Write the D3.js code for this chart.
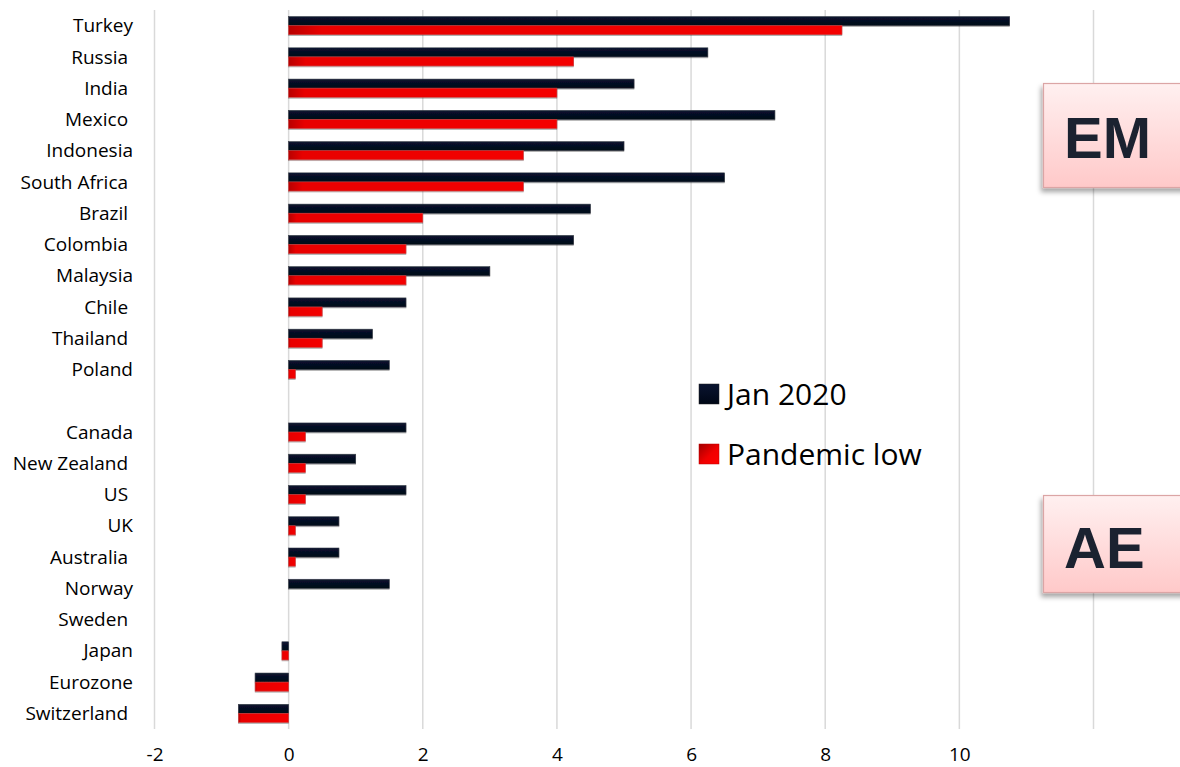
<!DOCTYPE html>
<html>
<head>
<meta charset="utf-8">
<script src="https://cdn.jsdelivr.net/npm/d3@7"></script>
<style>
  html, body { margin: 0; padding: 0; background: #ffffff; }
  svg { display: block; }
  text { font-family: "Open Sans", Lato, sans-serif; }
</style>
</head>
<body>
<svg id="chart" width="1180" height="767"></svg>
<script>
// Policy rates, % — an empty category separates EM from AE
const categories = ["Turkey", "Russia ", "India ", "Mexico ", "Indonesia", "South Africa ", "Brazil ",
  "Colombia ", "Malaysia", "Chile ", "Thailand ", "Poland", "",
  "Canada", "New Zealand ", "US ", "UK", "Australia ", "Norway", "Sweden ", "Japan", "Eurozone", "Switzerland "];
const jan2020 = [10.75, 6.25, 5.15, 7.25, 5.0, 6.5, 4.5, 4.25, 3.0, 1.75, 1.25, 1.5, null,
  1.75, 1.0, 1.75, 0.75, 0.75, 1.5, 0, -0.1, -0.5, -0.75];
const pandemicLow = [8.25, 4.25, 4.0, 4.0, 3.5, 3.5, 2.0, 1.75, 1.75, 0.5, 0.5, 0.1, null,
  0.25, 0.25, 0.25, 0.1, 0.1, 0, 0, -0.1, -0.5, -0.75];
const seriesNames = ["Jan 2020", "Pandemic low"];
const gridValues = [-2, 0, 2, 4, 6, 8, 10, 12];
const tickLabels = [-2, 0, 2, 4, 6, 8, 10];
const groupLabels = ["EM", "AE"];

const svg = d3.select("#chart");
const defs = svg.append("defs");

// gradients for the bar fills
const gDark = defs.append("linearGradient").attr("id", "gDark").attr("x1", 0).attr("y1", 0).attr("x2", 0).attr("y2", 1);
gDark.append("stop").attr("offset", "0%").attr("stop-color", "#0a1430");
gDark.append("stop").attr("offset", "100%").attr("stop-color", "#000716");
const gRed = defs.append("linearGradient").attr("id", "gRed").attr("x1", 0).attr("y1", 0).attr("x2", 1).attr("y2", 0);
gRed.append("stop").attr("offset", "0%").attr("stop-color", "#b80000");
gRed.append("stop").attr("offset", "6%").attr("stop-color", "#e80000");
gRed.append("stop").attr("offset", "100%").attr("stop-color", "#f40000");
const gRedLeg = defs.append("linearGradient").attr("id", "gRedLeg").attr("x1", 0).attr("y1", 0).attr("x2", 1).attr("y2", 1);
gRedLeg.append("stop").attr("offset", "0%").attr("stop-color", "#a00000");
gRedLeg.append("stop").attr("offset", "55%").attr("stop-color", "#f00000");
gRedLeg.append("stop").attr("offset", "100%").attr("stop-color", "#ff0000");
const gBox = defs.append("linearGradient").attr("id", "gBox").attr("x1", 0).attr("y1", 0).attr("x2", 0).attr("y2", 1);
gBox.append("stop").attr("offset", "0%").attr("stop-color", "#fff0f0");
gBox.append("stop").attr("offset", "100%").attr("stop-color", "#ffc9c9");

const shadow = defs.append("filter").attr("id", "boxShadow").attr("x", "-10%").attr("y", "-10%").attr("width", "130%").attr("height", "130%");
shadow.append("feDropShadow").attr("dx", -2).attr("dy", 4).attr("stdDeviation", 2.5)
  .attr("flood-color", "#000").attr("flood-opacity", 0.35);
const barShadow = defs.append("filter").attr("id", "barShadow").attr("x", "-5%").attr("y", "-20%").attr("width", "110%").attr("height", "160%");
barShadow.append("feDropShadow").attr("dx", 0).attr("dy", 1).attr("stdDeviation", 0.6)
  .attr("flood-color", "#000").attr("flood-opacity", 0.35);

const x = d3.scaleLinear().domain([-2, 12]).range([154.5, 1093.5]);
const y = d3.scaleBand().domain(d3.range(categories.length)).range([10, 729]).paddingInner(0.42).paddingOuter(0.21);
const sub = d3.scaleBand().domain([0, 1]).range([0, y.bandwidth()]);

// vertical gridlines
svg.append("g").selectAll("line").data(gridValues).join("line")
  .attr("x1", d => x(d)).attr("x2", d => x(d))
  .attr("y1", 10).attr("y2", 729)
  .attr("stroke", "#d9d9d9").attr("stroke-width", 1.5);

// bottom tick labels
const xAxis = d3.axisBottom(x).tickValues(tickLabels).tickFormat(d => String(d)).tickSize(0).tickPadding(0);
const ax = svg.append("g").attr("transform", "translate(0,747)").call(xAxis);
ax.select(".domain").remove();
ax.selectAll("text").attr("font-size", 19).attr("fill", "#000").attr("dy", "0.71em")
  .style("font-family", "'Open Sans', Lato, sans-serif");

// category labels
svg.append("g").selectAll("text").data(categories).join("text")
  .attr("x", 133).attr("y", (d, i) => y(i) + y.bandwidth() / 2)
  .attr("dy", "0.35em").attr("text-anchor", "end")
  .attr("xml:space", "preserve").style("white-space", "pre")
  .attr("font-size", 19).attr("fill", "#000")
  .text(d => d);

// bars
const series = [
  { values: jan2020, fill: "url(#gDark)", stroke: "#3a3f48" },
  { values: pandemicLow, fill: "url(#gRed)", stroke: "#c84040" }
];
series.forEach((s, k) => {
  svg.append("g").attr("filter", "url(#barShadow)").selectAll("rect")
    .data(s.values.map((v, i) => ({ v, i })).filter(d => d.v !== null && d.v !== 0))
    .join("rect")
    .attr("x", d => x(Math.min(0, d.v)))
    .attr("width", d => Math.abs(x(d.v) - x(0)))
    .attr("y", d => y(d.i) + sub(k))
    .attr("height", sub.bandwidth())
    .attr("fill", s.fill)
    .attr("stroke", s.stroke).attr("stroke-width", 0.6);
});

// legend
const legend = svg.append("g");
const legFills = ["url(#gDark)", "url(#gRedLeg)"];
const legY = [384, 444];
seriesNames.forEach((name, k) => {
  legend.append("rect").attr("x", 699).attr("y", legY[k]).attr("width", 20).attr("height", 20)
    .attr("fill", legFills[k]).attr("stroke", k === 0 ? "#222" : "#b00").attr("stroke-width", 0.5);
  legend.append("text").attr("x", 727).attr("y", legY[k] + 21)
    .attr("font-size", 30).attr("fill", "#000").text(name);
});

// group tags
const boxes = [{ y: 83, h: 104, base: 158 }, { y: 495, h: 97, base: 568 }];
groupLabels.forEach((lab, k) => {
  const b = boxes[k];
  svg.append("rect").attr("x", 1043.5).attr("y", b.y + 0.5).attr("width", 150).attr("height", b.h)
    .attr("fill", "url(#gBox)").attr("stroke", "#dba5a5").attr("stroke-width", 1.2)
    .attr("filter", "url(#boxShadow)");
  svg.append("text").attr("x", 1064).attr("y", b.base)
    .attr("font-size", 58).attr("font-weight", "bold").attr("fill", "#1b2230")
    .style("font-family", "'Liberation Sans', Arial, sans-serif")
    .text(lab);
});
</script>
</body>
</html>
